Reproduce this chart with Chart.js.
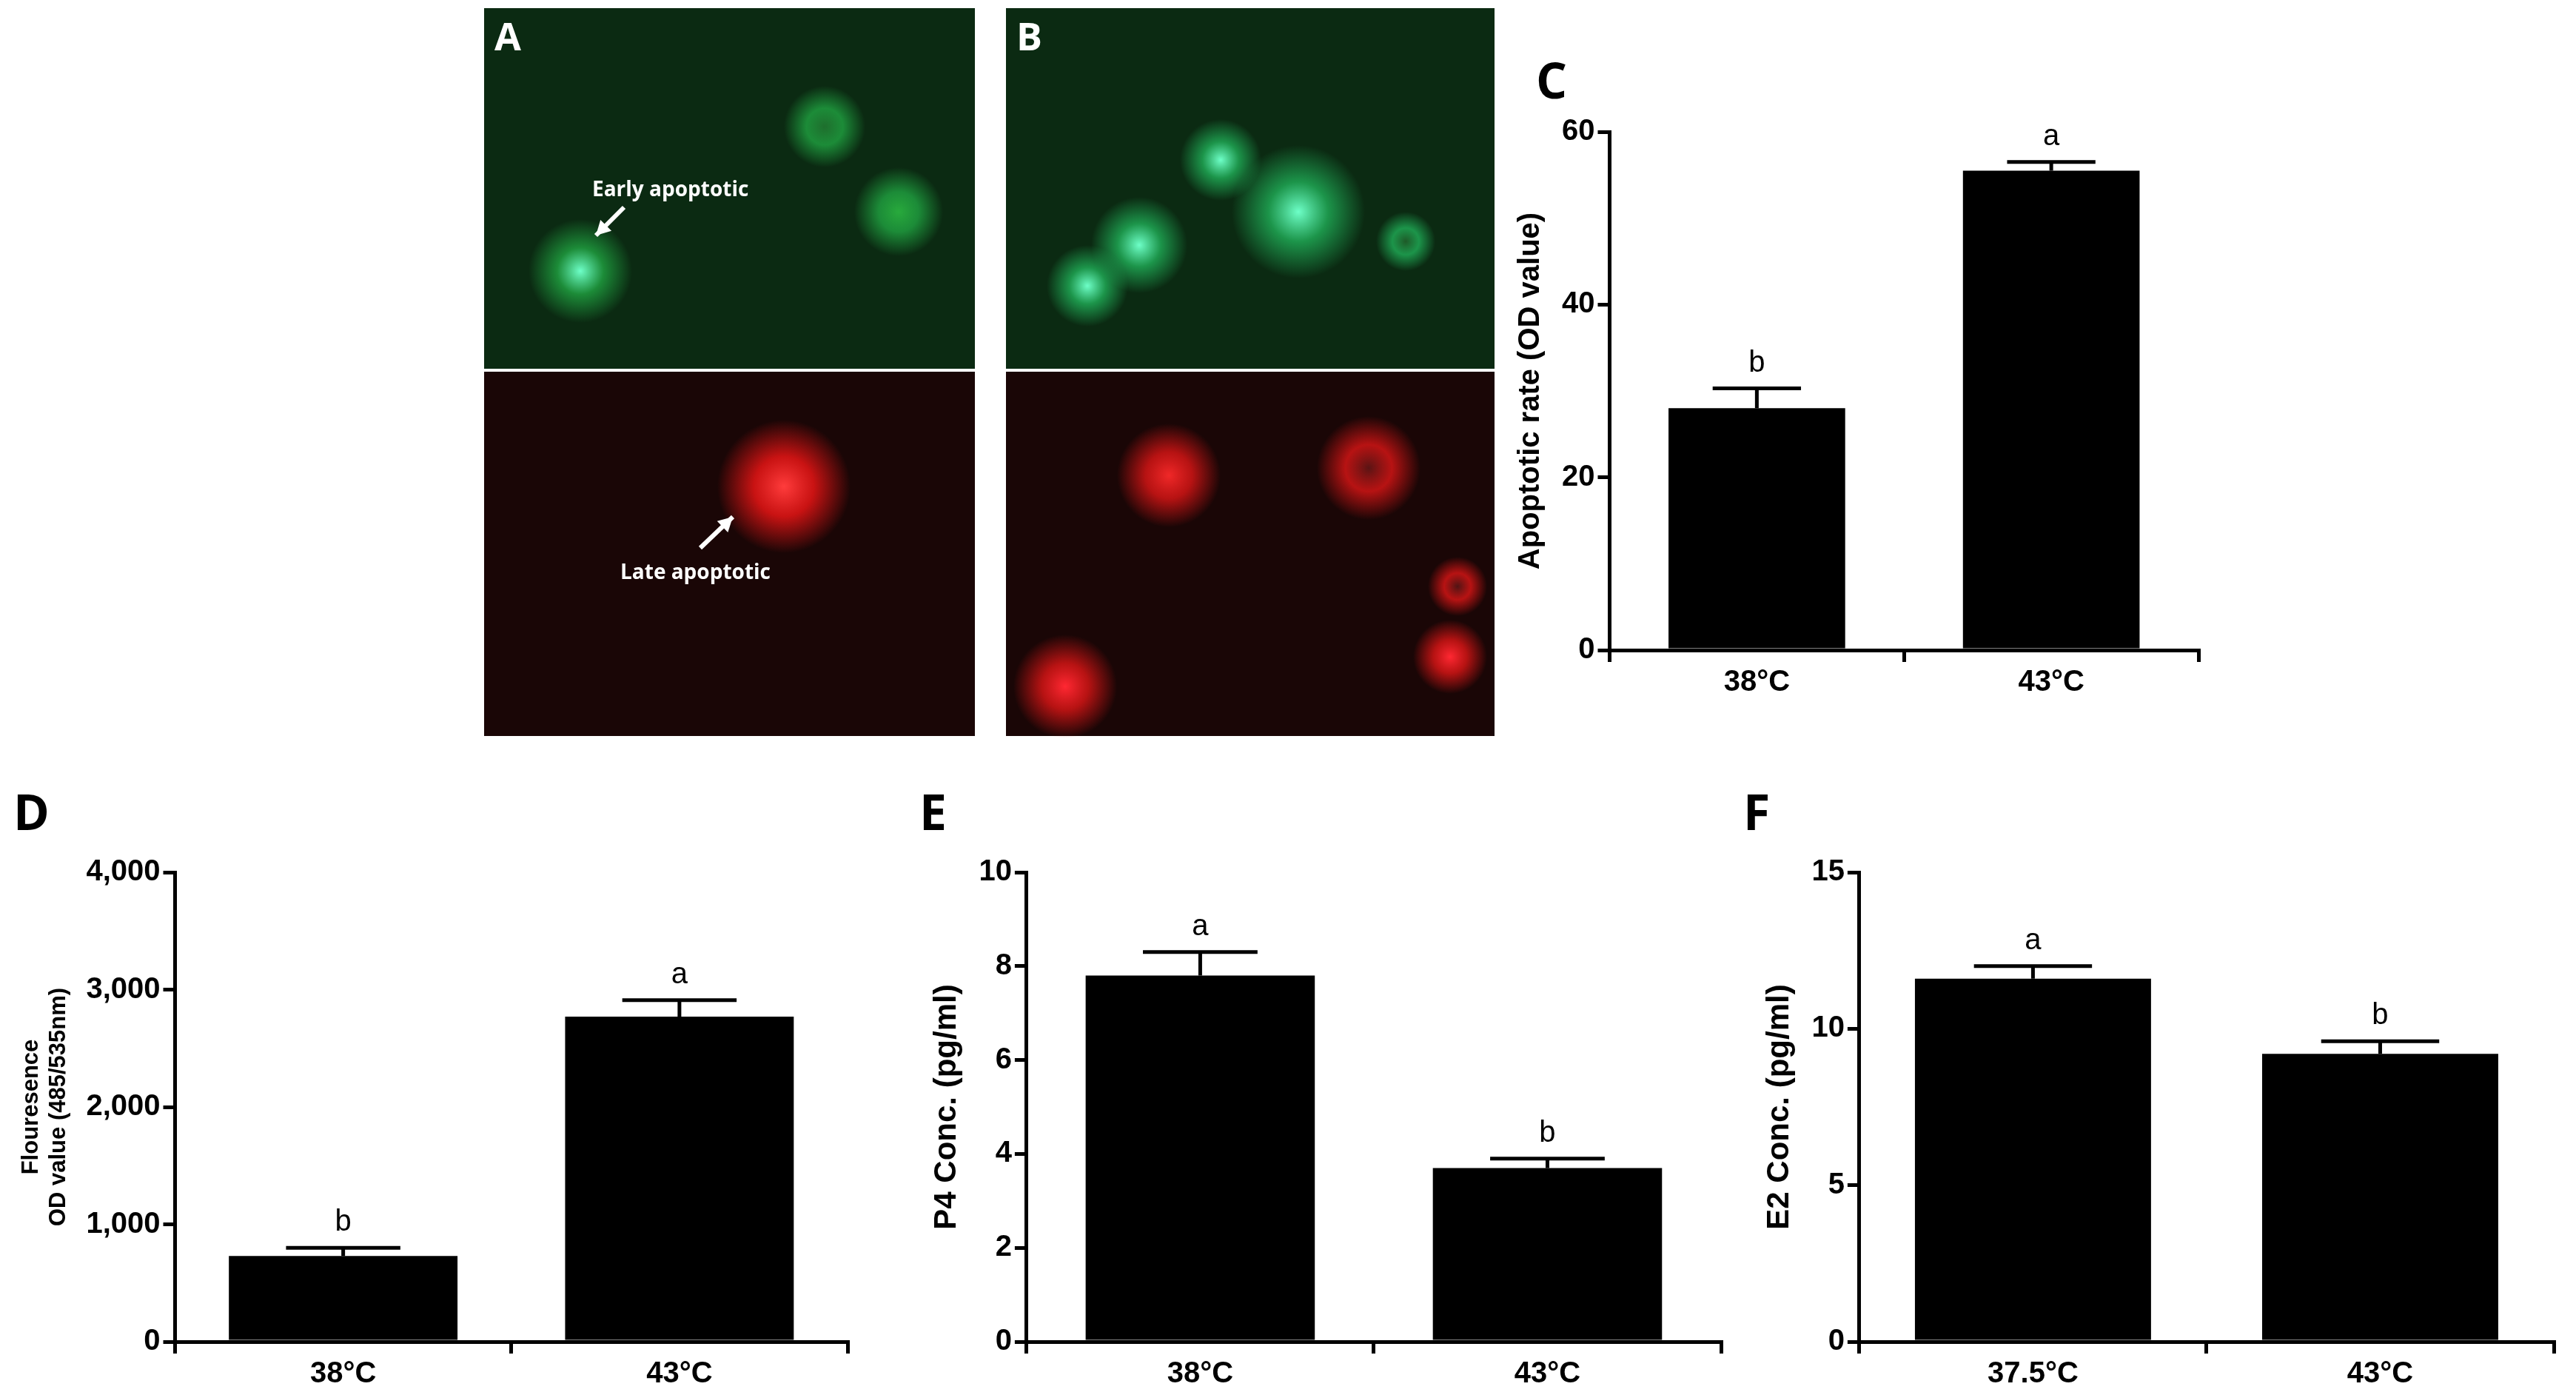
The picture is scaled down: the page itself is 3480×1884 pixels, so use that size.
<!DOCTYPE html>
<html><head><meta charset="utf-8">
<script src="https://cdn.jsdelivr.net/npm/chart.js@4/dist/chart.umd.min.js"></script>
<style>
html,body{margin:0;padding:0;background:#fff;width:3480px;height:1884px;overflow:hidden;font-family:"Liberation Sans",Arial,sans-serif}
.box{position:absolute}
.lab{position:absolute;font:bold 66px "Open Sans","Liberation Sans",sans-serif;color:#000}
</style></head><body>
<canvas id="bg" width="3480" height="1884" style="position:absolute;left:0;top:0"></canvas>
<div class="lab" style="left:2075px;top:62px">C</div>
<div class="lab" style="left:18px;top:1050px">D</div>
<div class="lab" style="left:1242px;top:1050px">E</div>
<div class="lab" style="left:2355px;top:1050px">F</div>
<div class="box" style="left:2040px;top:150px;width:940px;height:800px"><canvas id="cC"></canvas></div>
<div class="box" style="left:20px;top:1150px;width:1135px;height:734px"><canvas id="cD"></canvas></div>
<div class="box" style="left:1250px;top:1150px;width:1085px;height:734px"><canvas id="cE"></canvas></div>
<div class="box" style="left:2375px;top:1150px;width:1085px;height:734px"><canvas id="cF"></canvas></div>
<script>
// ---- data ----
const labelsC = ["38°C","43°C"];
const valuesC = [28, 55.5];
const errorsC = [2.3, 1.0];
const lettersC = ["b","a"];
const ticksC = [0,20,40,60];

const labelsD = ["38°C","43°C"];
const valuesD = [730, 2770];
const errorsD = [70, 140];
const lettersD = ["b","a"];
const ticksD = [0,1000,2000,3000,4000];

const labelsE = ["38°C","43°C"];
const valuesE = [7.8, 3.7];
const errorsE = [0.5, 0.2];
const lettersE = ["a","b"];
const ticksE = [0,2,4,6,8,10];

const labelsF = ["37.5°C","43°C"];
const valuesF = [11.6, 9.2];
const errorsF = [0.4, 0.4];
const lettersF = ["a","b"];
const ticksF = [0,5,10,15];

// ---- micrograph background (decorative) ----
const bg = document.getElementById('bg').getContext('2d');
function panel(x,y,w,h,base,blobs,rgb){
  bg.fillStyle=base; bg.fillRect(x,y,w,h);
  blobs.forEach(b=>{
    const g=bg.createRadialGradient(x+b[0],y+b[1],0,x+b[0],y+b[1],b[2]);
    g.addColorStop(0,`rgba(${b[3]},1)`);g.addColorStop(0.45,`rgba(${rgb},0.9)`);g.addColorStop(1,`rgba(${rgb},0)`);
    bg.fillStyle=g;bg.beginPath();bg.ellipse(x+b[0],y+b[1],b[2]*1.2,b[2],0,0,Math.PI*2);bg.fill();
  });
}
panel(654,11,663,487,'#0b2a12',[[130,355,70,'110,255,200'],[560,275,60,'40,170,60'],[460,160,55,'30,110,45']],'30,150,60');
panel(654,502,663,492,'#1a0606',[[405,155,90,'255,60,60']],'220,20,20');
panel(1359,11,660,487,'#0b2a12',[[290,205,55,'110,255,200'],[180,320,65,'110,255,200'],[110,375,55,'110,255,200'],[395,275,90,'110,255,200'],[540,315,40,'30,90,40']],'30,160,80');
panel(1359,502,660,492,'#1a0606',[[220,140,70,'240,40,40'],[490,130,70,'90,20,20'],[80,425,70,'255,40,50'],[600,385,50,'255,40,50'],[610,290,40,'80,20,20']],'200,20,20');
bg.fillStyle='#fff';bg.font='bold 52px "Open Sans","Liberation Sans",sans-serif';
bg.fillText('A',668,68);bg.fillText('B',1373,68);
bg.font='bold 28px "Open Sans","Liberation Sans",sans-serif';
bg.fillText('Early apoptotic',800,265);bg.fillText('Late apoptotic',838,782);
function arrow(x1,y1,x2,y2){bg.strokeStyle='#fff';bg.lineWidth=6;bg.beginPath();bg.moveTo(x1,y1);bg.lineTo(x2,y2);bg.stroke();
 const a=Math.atan2(y2-y1,x2-x1);bg.fillStyle='#fff';bg.beginPath();bg.moveTo(x2,y2);
 bg.lineTo(x2-22*Math.cos(a-0.5),y2-22*Math.sin(a-0.5));bg.lineTo(x2-22*Math.cos(a+0.5),y2-22*Math.sin(a+0.5));bg.fill();}
arrow(843,280,805,318);arrow(946,740,990,698);

// ---- charts ----
const errPlugin={id:'err',afterDatasetsDraw(ch){
  const o=ch.options.plugins.err, ctx=ch.ctx, ys=ch.scales.y;
  ch.getDatasetMeta(0).data.forEach((bar,i)=>{
    const v=ch.data.datasets[0].data[i], top=ys.getPixelForValue(v+o.errors[i]);
    const cw=bar.width*0.25;
    ctx.save();ctx.strokeStyle='#000';ctx.lineWidth=5;ctx.beginPath();
    ctx.moveTo(bar.x,bar.y);ctx.lineTo(bar.x,top);ctx.moveTo(bar.x-cw,top);ctx.lineTo(bar.x+cw,top);ctx.stroke();
    ctx.fillStyle='#000';ctx.font=o.letterFont;ctx.textAlign='center';ctx.textBaseline='bottom';
    ctx.fillText(o.letters[i],bar.x,top-14);ctx.restore();
  });}};
function make(id,labels,vals,errs,letters,ticks,title,titleSize,bp){
  const tf={family:'"Liberation Sans Narrow","Liberation Sans",Arial',weight:'bold',size:40};
  new Chart(document.getElementById(id),{type:'bar',
   data:{labels,datasets:[{data:vals,backgroundColor:'#000',borderWidth:0,categoryPercentage:1,barPercentage:bp}]},
   plugins:[errPlugin],
   options:{responsive:true,maintainAspectRatio:false,devicePixelRatio:1,animation:false,
    layout:{padding:{top:10,right:10}},
    plugins:{legend:{display:false},tooltip:{enabled:false},err:{errors:errs,letters,letterFont:'40px "Liberation Sans Narrow","Liberation Sans",Arial'}},
    scales:{
     x:{grid:{display:true,drawOnChartArea:false,drawTicks:true,tickLength:16,color:'#000',lineWidth:5},border:{color:'#000',width:5},
        ticks:{color:'#000',font:tf,padding:4}},
     y:{min:ticks[0],max:ticks[ticks.length-1],afterBuildTicks:s=>{s.ticks=ticks.map(v=>({value:v}));},
        grid:{display:true,drawOnChartArea:false,drawTicks:true,tickLength:16,color:'#000',lineWidth:5},border:{color:'#000',width:5},
        ticks:{color:'#000',font:tf,padding:4},
        title:{display:true,text:title,color:'#000',font:{family:'"Liberation Sans",Arial',weight:'bold',size:titleSize},padding:{bottom:14}}}
    }}});
}
make('cC',labelsC,valuesC,errorsC,lettersC,ticksC,'Apoptotic rate (OD value)',40,0.6);
make('cD',labelsD,valuesD,errorsD,lettersD,ticksD,['Flouresence','OD value (485/535nm)'],31,0.68);
make('cE',labelsE,valuesE,errorsE,lettersE,ticksE,'P4 Conc. (pg/ml)',42,0.66);
make('cF',labelsF,valuesF,errorsF,lettersF,ticksF,'E2 Conc. (pg/ml)',42,0.68);
</script></body></html>
